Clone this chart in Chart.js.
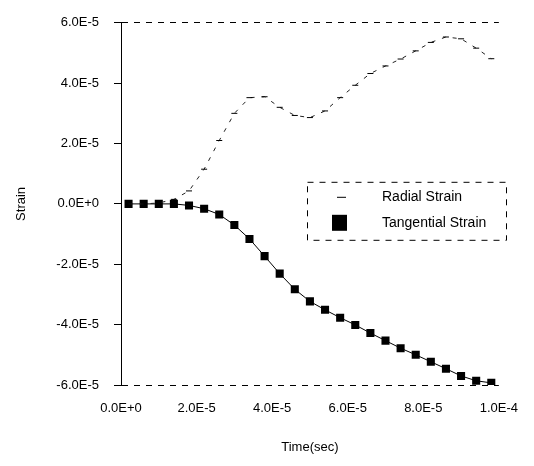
<!DOCTYPE html>
<html>
<head>
<meta charset="utf-8">
<script src="https://cdn.jsdelivr.net/npm/chart.js@4"></script>
<style>
  body { margin: 0; background: #fff; }
</style>
</head>
<body>
<canvas id="chart" width="534" height="466"></canvas>
<script>
// time in seconds, strain values
const times = [
  0.2e-5, 0.6e-5, 1.0e-5, 1.4e-5, 1.8e-5, 2.2e-5, 2.6e-5, 3.0e-5, 3.4e-5,
  3.8e-5, 4.2e-5, 4.6e-5, 5.0e-5, 5.4e-5, 5.8e-5, 6.2e-5, 6.6e-5, 7.0e-5,
  7.4e-5, 7.8e-5, 8.2e-5, 8.6e-5, 9.0e-5, 9.4e-5, 9.8e-5
];
const radialStrain = [
  0, 0, 0.03e-5, 0.15e-5, 0.43e-5, 1.15e-5, 2.1e-5, 3.0e-5, 3.52e-5,
  3.55e-5, 3.2e-5, 2.93e-5, 2.86e-5, 3.08e-5, 3.52e-5, 3.93e-5, 4.32e-5, 4.57e-5,
  4.8e-5, 5.07e-5, 5.35e-5, 5.53e-5, 5.47e-5, 5.16e-5, 4.81e-5
];
const tangentialStrain = [
  0, 0, 0, 0, -0.05e-5, -0.16e-5, -0.35e-5, -0.7e-5, -1.16e-5,
  -1.73e-5, -2.31e-5, -2.83e-5, -3.23e-5, -3.51e-5, -3.77e-5, -4.01e-5, -4.28e-5, -4.53e-5,
  -4.78e-5, -5.0e-5, -5.23e-5, -5.46e-5, -5.7e-5, -5.86e-5, -5.93e-5
];
const xTicks = [0, 2e-5, 4e-5, 6e-5, 8e-5, 1e-4];
const yTicks = [-6e-5, -4e-5, -2e-5, 0, 2e-5, 4e-5, 6e-5];

const FONT = "'Liberation Sans', Arial, sans-serif";
const fmt = v => (Math.abs(v) < 1e-12 ? 0 : v).toExponential(1).toUpperCase();
const pts = vals => vals.map((v, i) => ({ x: times[i], y: v }));

// legend box drawn inside the plot, dashed frame like the original
const boxLegend = {
  id: "boxLegend",
  afterDraw(chart) {
    const ctx = chart.ctx;
    const ca = chart.chartArea;
    const left = ca.left + 186, top = ca.top + 159;
    const w = 199, h = 58;
    ctx.save();
    ctx.strokeStyle = "#000";
    ctx.lineWidth = 1;
    ctx.setLineDash([6, 6]);
    ctx.strokeRect(left + 0.5, top + 0.5, w, h);
    ctx.setLineDash([]);

    // radial: short dash marker
    ctx.beginPath();
    ctx.moveTo(left + 30, top + 15.5);
    ctx.lineTo(left + 39, top + 15.5);
    ctx.stroke();
    // tangential: big filled square
    ctx.fillStyle = "#000";
    ctx.fillRect(left + 25, top + 33, 15, 16);

    ctx.font = "14px " + FONT;
    ctx.textBaseline = "middle";
    ctx.textAlign = "left";
    const ds = chart.data.datasets;
    ctx.fillText(ds[0].label, left + 75, top + 15);
    ctx.fillText(ds[1].label, left + 75, top + 41);
    ctx.restore();
  }
};

new Chart(document.getElementById("chart").getContext("2d"), {
  type: "scatter",
  data: {
    datasets: [
      {
        label: "Radial Strain",
        data: pts(radialStrain),
        showLine: true,
        borderColor: "#222",
        borderWidth: 1,
        borderDash: [4, 7],
        pointStyle: "line",
        pointRadius: 3,
        pointBorderWidth: 1,
        pointBorderColor: "#000"
      },
      {
        label: "Tangential Strain",
        data: pts(tangentialStrain),
        showLine: true,
        borderColor: "#000",
        borderWidth: 1,
        pointStyle: "rect",
        pointRadius: 5.7,
        pointBackgroundColor: "#000",
        pointBorderColor: "#000",
        pointBorderWidth: 0
      }
    ]
  },
  options: {
    responsive: false,
    animation: false,
    layout: { padding: { left: 0, right: 29, top: 13, bottom: 8 } },
    plugins: {
      legend: { display: false },
      tooltip: { enabled: false }
    },
    scales: {
      x: {
        type: "linear",
        min: 0,
        max: 1e-4,
        afterBuildTicks: axis => { axis.ticks = xTicks.map(v => ({ value: v })); },
        afterFit: axis => { axis.height = 73; },
        grid: { display: false, drawTicks: false },
        border: { display: false },
        ticks: {
          padding: 16,
          color: "#000",
          font: { family: FONT, size: 13 },
          maxRotation: 0,
          callback: v => fmt(v)
        },
        title: {
          display: true,
          text: "Time(sec)",
          color: "#000",
          font: { family: FONT, size: 13 },
          padding: { top: 0, bottom: 3 }
        }
      },
      y: {
        min: -6e-5,
        max: 6e-5,
        afterBuildTicks: axis => { axis.ticks = yTicks.map(v => ({ value: v })); },
        afterFit: axis => { axis.width = 121; },
        grid: {
          color: c => (c.tick && Math.abs(Math.abs(c.tick.value) - 6e-5) < 1e-9 ? "#000" : "rgba(0,0,0,0)"),
          tickColor: "#000",
          tickLength: 7,
          lineWidth: 1
        },
        border: { display: true, color: "#000", width: 1, dash: [6, 6] },
        ticks: {
          padding: 15,
          color: "#000",
          font: { family: FONT, size: 13 },
          callback: v => fmt(v)
        },
        title: {
          display: true,
          text: "Strain",
          color: "#000",
          font: { family: FONT, size: 13 },
          padding: { top: 14, bottom: 0 }
        }
      }
    }
  },
  plugins: [boxLegend]
});
</script>
</body>
</html>
